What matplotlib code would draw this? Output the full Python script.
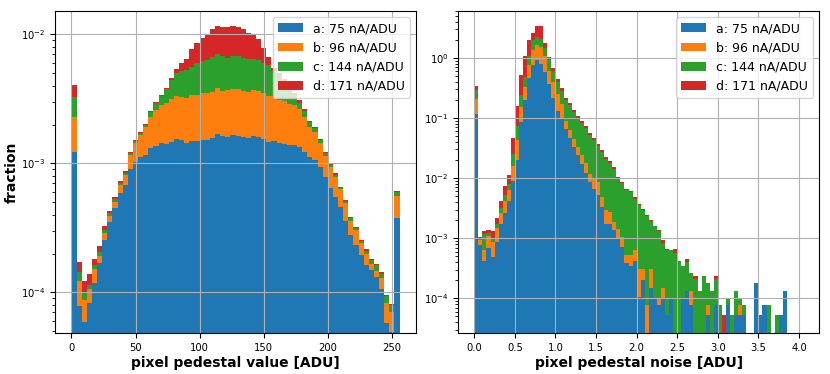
import numpy as np
import matplotlib.pyplot as plt

# legend labels of the four datasets
labels = ['a: 75 nA/ADU', 'b: 96 nA/ADU', 'c: 144 nA/ADU', 'd: 171 nA/ADU']
colors = ['#1f77b4', '#ff7f0e', '#2ca02c', '#d62728']

# ---- pedestal value histogram (64 bins of 4 ADU), stacked tops
ped_edges = np.arange(0, 257, 4)
ped_top_a = [1.23e-3, 7.9e-5, 5.85e-5, 8.2e-5, 1.19e-4, 1.70e-4, 2.55e-4, 3.53e-4,
             4.51e-4, 5.85e-4, 6.75e-4, 9.0e-4, 1.03e-3, 1.13e-3, 1.17e-3, 1.32e-3,
             1.36e-3, 1.43e-3, 1.41e-3, 1.47e-3, 1.55e-3, 1.52e-3, 1.43e-3, 1.50e-3,
             1.50e-3, 1.52e-3, 1.52e-3, 1.58e-3, 1.69e-3, 1.63e-3, 1.59e-3, 1.66e-3,
             1.64e-3, 1.61e-3, 1.57e-3, 1.63e-3, 1.59e-3, 1.55e-3, 1.47e-3, 1.49e-3,
             1.45e-3, 1.41e-3, 1.39e-3, 1.39e-3, 1.35e-3, 1.23e-3, 1.13e-3, 1.06e-3,
             9.4e-4, 7.8e-4, 6.4e-4, 5.52e-4, 4.62e-4, 3.6e-4, 2.78e-4, 2.35e-4,
             1.95e-4, 1.63e-4, 1.49e-4, 1.32e-4, 1.07e-4, 5.8e-5, 4.95e-5, 3.79e-4]
ped_top_b = [2.30e-3, 1.23e-4, 8.8e-5, 1.06e-4, 1.51e-4, 1.92e-4, 2.87e-4, 3.93e-4,
             5.0e-4, 6.75e-4, 8.1e-4, 1.17e-3, 1.45e-3, 1.66e-3, 1.91e-3, 2.30e-3,
             2.59e-3, 2.82e-3, 2.92e-3, 3.16e-3, 3.35e-3, 3.25e-3, 3.19e-3, 3.39e-3,
             3.37e-3, 3.49e-3, 3.49e-3, 3.61e-3, 3.81e-3, 3.66e-3, 3.70e-3, 3.79e-3,
             3.77e-3, 3.66e-3, 3.59e-3, 3.70e-3, 3.64e-3, 3.53e-3, 3.33e-3, 3.33e-3,
             3.13e-3, 3.06e-3, 2.90e-3, 2.83e-3, 2.62e-3, 2.30e-3, 1.92e-3, 1.76e-3,
             1.45e-3, 1.15e-3, 9.4e-4, 7.9e-4, 6.3e-4, 4.96e-4, 3.6e-4, 3.04e-4,
             2.4e-4, 2.0e-4, 1.66e-4, 1.47e-4, 1.29e-4, 8.2e-5, 7.1e-5, 5.58e-4]
ped_top_c = [3.25e-3, 1.43e-4, 9.9e-5, 1.15e-4, 1.62e-4, 2.06e-4, 3.04e-4, 4.15e-4,
             5.29e-4, 7.08e-4, 8.5e-4, 1.21e-3, 1.50e-3, 1.72e-3, 1.98e-3, 2.51e-3,
             2.92e-3, 3.33e-3, 3.77e-3, 4.43e-3, 5.05e-3, 5.2e-3, 5.3e-3, 5.55e-3,
             6.03e-3, 6.25e-3, 6.3e-3, 6.71e-3, 7.04e-3, 6.8e-3, 6.6e-3, 6.8e-3,
             6.8e-3, 6.58e-3, 6.4e-3, 6.45e-3, 6.3e-3, 5.96e-3, 5.8e-3, 5.2e-3,
             4.7e-3, 4.3e-3, 3.55e-3, 3.4e-3, 2.95e-3, 2.56e-3, 2.10e-3, 1.87e-3,
             1.53e-3, 1.21e-3, 9.8e-4, 8.2e-4, 6.5e-4, 5.14e-4, 3.75e-4, 3.13e-4,
             2.52e-4, 2.1e-4, 1.78e-4, 1.63e-4, 1.40e-4, 9.4e-5, 8.0e-5, 6.0e-4]
ped_top_d = [4.03e-3, 1.73e-4, 1.22e-4, 1.39e-4, 1.82e-4, 2.29e-4, 3.27e-4, 4.30e-4,
             5.52e-4, 7.24e-4, 8.7e-4, 1.23e-3, 1.53e-3, 1.75e-3, 2.03e-3, 2.57e-3,
             2.99e-3, 3.41e-3, 3.84e-3, 4.56e-3, 5.42e-3, 5.96e-3, 6.47e-3, 7.78e-3,
             8.6e-3, 9.37e-3, 1.0e-2, 1.094e-2, 1.16e-2, 1.15e-2, 1.14e-2, 1.16e-2,
             1.15e-2, 1.10e-2, 1.02e-2, 1.0e-2, 9.14e-3, 7.89e-3, 6.7e-3, 5.5e-3,
             5.0e-3, 4.5e-3, 3.7e-3, 3.53e-3, 3.1e-3, 2.62e-3, 2.13e-3, 1.90e-3,
             1.56e-3, 1.23e-3, 1.0e-3, 8.4e-4, 6.6e-4, 5.2e-4, 3.86e-4, 3.19e-4,
             2.55e-4, 2.15e-4, 1.81e-4, 1.66e-4, 1.43e-4, 9.6e-5, 8.1e-5, 6.1e-4]

# ---- pedestal noise histogram (81 bins of 0.05 ADU), stacked tops
noise_edges = np.linspace(0, 4.05, 82)
noise_top_a = [0.115, 7.6e-4, 4.18e-4, 7.0e-4, 4.9e-4, 8.8e-4, 1.75e-3, 2.67e-3,
               4.17e-3, 8.97e-3, 1.98e-2, 8.6e-2, 0.203, 0.471, 0.755, 0.914,
               0.805, 0.585, 0.365, 0.219, 0.131, 0.1016, 6.67e-2, 4.72e-2,
               3.3e-2, 2.4e-2, 1.74e-2, 1.24e-2, 8.5e-3, 6.7e-3, 5.18e-3, 3.31e-3,
               1.75e-3, 1.75e-3, 1.35e-3, 9.85e-4, 7.15e-4, 3.93e-4, 3.41e-4, 4.13e-4,
               1.05e-4, 2.05e-4, 2e-5, 1.51e-4, 1.03e-4, 7.6e-5, 1.03e-4, 5.2e-5,
               1.03e-4, 0, 0, 1.03e-4, 1.32e-4, 7.6e-5, 0, 0,
               0, 5.2e-5, 0, 7.6e-5, 0, 0, 7.6e-5, 0,
               5.2e-5, 5.2e-5, 5.2e-5, 0, 0, 1.82e-4, 5.2e-5, 7.6e-5,
               0, 0, 0, 5.2e-5, 1.32e-4, 0, 0, 0, 0]
noise_top_b = [0.21, 9.2e-4, 6.3e-4, 1.10e-3, 8.7e-4, 1.5e-3, 2.67e-3, 4.17e-3,
               6.3e-3, 1.61e-2, 4.37e-2, 0.153, 0.329, 0.755, 1.38, 1.62,
               1.52, 1.07, 0.62, 0.40, 0.248, 0.174, 8.8e-2, 6.4e-2,
               4.54e-2, 3.3e-2, 2.4e-2, 1.79e-2, 1.19e-2, 1.02e-2, 8.6e-3, 4.86e-3,
               2.92e-3, 2.73e-3, 1.86e-3, 1.44e-3, 1.05e-3, 5.33e-4, 5.2e-4, 6.3e-4,
               3.04e-4, 3.04e-4, 7.6e-5, 3.04e-4, 1.03e-4, 1.03e-4, 1.51e-4, 5.2e-5,
               1.03e-4, 0, 0, 1.03e-4, 1.32e-4, 1.32e-4, 0, 0,
               0, 7.6e-5, 0, 7.6e-5, 0, 0, 7.6e-5, 0,
               5.2e-5, 7.6e-5, 5.2e-5, 0, 0, 1.82e-4, 5.2e-5, 7.6e-5,
               0, 0, 0, 5.2e-5, 1.32e-4, 0, 0, 0, 0]
noise_top_c = [0.29, 9.7e-4, 1.19e-3, 1.22e-3, 1.0e-3, 1.75e-3, 3.23e-3, 5.2e-3,
               7.9e-3, 2.49e-2, 7.3e-2, 0.245, 0.483, 1.08, 1.97, 2.24,
               2.1, 1.49, 0.914, 0.608, 0.40, 0.282, 0.197, 0.163,
               0.126, 0.1016, 8.28e-2, 6.92e-2, 5.16e-2, 4.37e-2, 3.39e-2, 2.72e-2,
               2.11e-2, 1.79e-2, 1.44e-2, 1.0e-2, 8.3e-3, 6.45e-3, 5.9e-3, 4.56e-3,
               3.6e-3, 2.99e-3, 2.32e-3, 1.94e-3, 1.58e-3, 1.32e-3, 8.3e-4, 6.46e-4,
               6.3e-4, 5.68e-4, 4.17e-4, 3.46e-4, 4.05e-4, 2.64e-4, 2.12e-4, 1.32e-4,
               2.32e-4, 1.82e-4, 1.32e-4, 2.12e-4, 7.85e-5, 0, 1.03e-4, 5.2e-5,
               1.32e-4, 1.03e-4, 7.6e-5, 0, 0, 1.82e-4, 5.2e-5, 7.6e-5,
               7.6e-5, 0, 5.2e-5, 5.2e-5, 1.32e-4, 0, 0, 0, 0]
noise_top_d = [0.347, 1.05e-3, 1.34e-3, 1.36e-3, 1.30e-3, 2.2e-3, 4.17e-3, 7.4e-3,
               1.11e-2, 4.72e-2, 0.159, 0.515, 1.07, 1.97, 2.6, 3.37,
               3.37, 1.8, 1.04, 0.69, 0.453, 0.313, 0.219, 0.178,
               0.138, 0.11, 8.8e-2, 7.5e-2, 5.57e-2, 4.72e-2, 3.64e-2, 2.9e-2,
               2.25e-2, 1.92e-2, 1.54e-2, 1.04e-2, 8.6e-3, 6.7e-3, 6.1e-3, 4.85e-3,
               3.7e-3, 3.05e-3, 2.4e-3, 2.0e-3, 1.62e-3, 1.36e-3, 9.2e-4, 6.6e-4,
               6.4e-4, 6.7e-4, 4.25e-4, 3.5e-4, 4.5e-4, 2.66e-4, 2.32e-4, 1.32e-4,
               2.32e-4, 1.82e-4, 1.32e-4, 2.32e-4, 7.85e-5, 5.2e-5, 1.03e-4, 5.2e-5,
               1.32e-4, 1.03e-4, 7.6e-5, 0, 0, 1.82e-4, 5.2e-5, 7.6e-5,
               7.6e-5, 0, 5.2e-5, 5.2e-5, 1.32e-4, 0, 0, 0, 0]


def layers(tops):
    # stacked tops -> individual dataset heights
    t = np.array(tops)
    return np.vstack([t[0], np.diff(t, axis=0)])


def stacked_hist(ax, edges, tops):
    centers = 0.5 * (edges[:-1] + edges[1:])
    w = layers(tops)
    ax.hist([centers] * 4, bins=edges, weights=list(w), stacked=True,
            color=colors, label=labels)
    ax.set_yscale('log')
    ax.grid(True)
    ax.legend(loc='upper right', fontsize=9)
    ax.tick_params(labelsize=7.2)


fig = plt.figure(figsize=(8.3, 3.74), dpi=100)
ax1 = fig.add_axes([0.0663, 0.1096, 0.4349, 0.861])
ax2 = fig.add_axes([0.5522, 0.1096, 0.4349, 0.861])

stacked_hist(ax1, ped_edges, [ped_top_a, ped_top_b, ped_top_c, ped_top_d])
ax1.set_xlim(-12.8, 268.8)
ax1.set_ylim(4.84e-5, 1.52e-2)
ax1.set_xlabel('pixel pedestal value [ADU]', fontsize=10, fontweight='bold', labelpad=2)
ax1.set_ylabel('fraction', fontsize=10, fontweight='bold', labelpad=1)

stacked_hist(ax2, noise_edges, [noise_top_a, noise_top_b, noise_top_c, noise_top_d])
ax2.set_xlim(-0.197, 4.25)
ax2.set_ylim(2.64e-5, 6.07)
ax2.set_xlabel('pixel pedestal noise [ADU]', fontsize=10, fontweight='bold', labelpad=2)

fig.savefig('out.png', dpi=100)
